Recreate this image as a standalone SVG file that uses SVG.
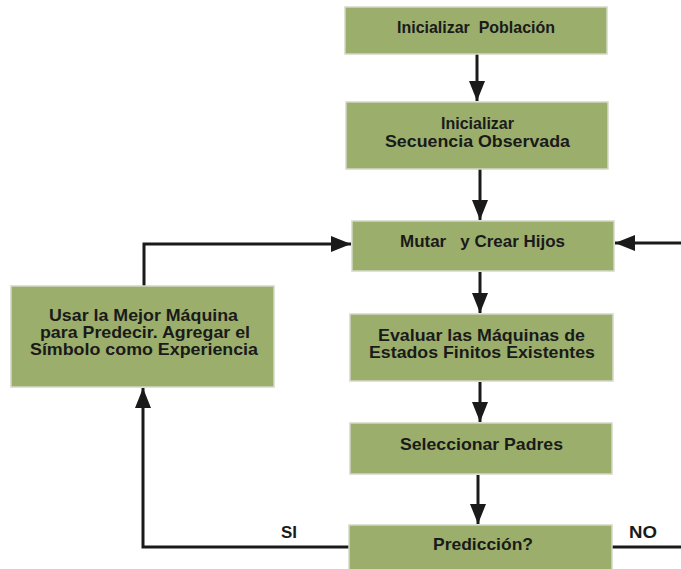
<svg xmlns="http://www.w3.org/2000/svg" width="681" height="569" viewBox="0 0 681 569">
<style>
.box{fill:#9bae6b;stroke:#d4d8c8;stroke-width:1.5}
.t{font-family:"Liberation Sans",Arial,sans-serif;font-weight:bold;font-size:16.5px;fill:#1a1a1a;white-space:pre}
.c{fill:none;stroke:#1a1a1a;stroke-width:3}
</style>
<defs>
<marker id="a" viewBox="0 0 20 16" refX="20" refY="8" markerWidth="20" markerHeight="16" orient="auto" markerUnits="userSpaceOnUse">
<path d="M0,0 L20,8 L0,16 Z" fill="#1a1a1a"/>
</marker>
</defs>
<g id="connectors">
<path class="c" d="M477,54 V101" marker-end="url(#a)"/>
<path class="c" d="M480,169 V220" marker-end="url(#a)"/>
<path class="c" d="M480,272 V313" marker-end="url(#a)"/>
<path class="c" d="M480,382 V422" marker-end="url(#a)"/>
<path class="c" d="M478,475 V524" marker-end="url(#a)"/>
<path class="c" d="M144,286 V244 H351" marker-end="url(#a)"/>
<path class="c" d="M681,243 H615" marker-end="url(#a)"/>
<path class="c" d="M349,547 H143 V388" marker-end="url(#a)"/>
<path class="c" d="M612,547 H681"/>
</g>
<g id="n1"><rect class="box" x="345" y="7" width="262" height="47"/><text class="t" x="397" y="33" textLength="158" lengthAdjust="spacingAndGlyphs">Inicializar  Población</text></g>
<g id="n2"><rect class="box" x="346" y="102" width="262" height="67"/><text class="t" x="441" y="129" textLength="73" lengthAdjust="spacingAndGlyphs">Inicializar</text><text class="t" x="385" y="147" textLength="185" lengthAdjust="spacingAndGlyphs">Secuencia Observada</text></g>
<g id="n3"><rect class="box" x="352" y="221" width="262" height="50"/><text class="t" x="400" y="247" textLength="165" lengthAdjust="spacingAndGlyphs">Mutar   y Crear Hijos</text></g>
<g id="n4"><rect class="box" x="350" y="314" width="263" height="67"/><text class="t" x="378" y="341" textLength="207" lengthAdjust="spacingAndGlyphs">Evaluar las Máquinas de</text><text class="t" x="369" y="358" textLength="226" lengthAdjust="spacingAndGlyphs">Estados Finitos Existentes</text></g>
<g id="n5"><rect class="box" x="350" y="423" width="262" height="51"/><text class="t" x="400" y="450" textLength="163" lengthAdjust="spacingAndGlyphs">Seleccionar Padres</text></g>
<g id="n6"><rect class="box" x="349" y="525" width="263" height="50"/><text class="t" x="433" y="550" textLength="100" lengthAdjust="spacingAndGlyphs">Predicción?</text></g>
<g id="n7"><rect class="box" x="11" y="286" width="263" height="101"/><text class="t" x="49" y="321" textLength="189" lengthAdjust="spacingAndGlyphs">Usar la Mejor Máquina</text><text class="t" x="40" y="338" textLength="210" lengthAdjust="spacingAndGlyphs">para Predecir. Agregar el</text><text class="t" x="30" y="355" textLength="228" lengthAdjust="spacingAndGlyphs">Símbolo como Experiencia</text></g>
<g id="labels"><text class="t" x="281" y="538" textLength="16" lengthAdjust="spacingAndGlyphs">SI</text><text class="t" x="629" y="538" textLength="28" lengthAdjust="spacingAndGlyphs">NO</text></g>
</svg>
